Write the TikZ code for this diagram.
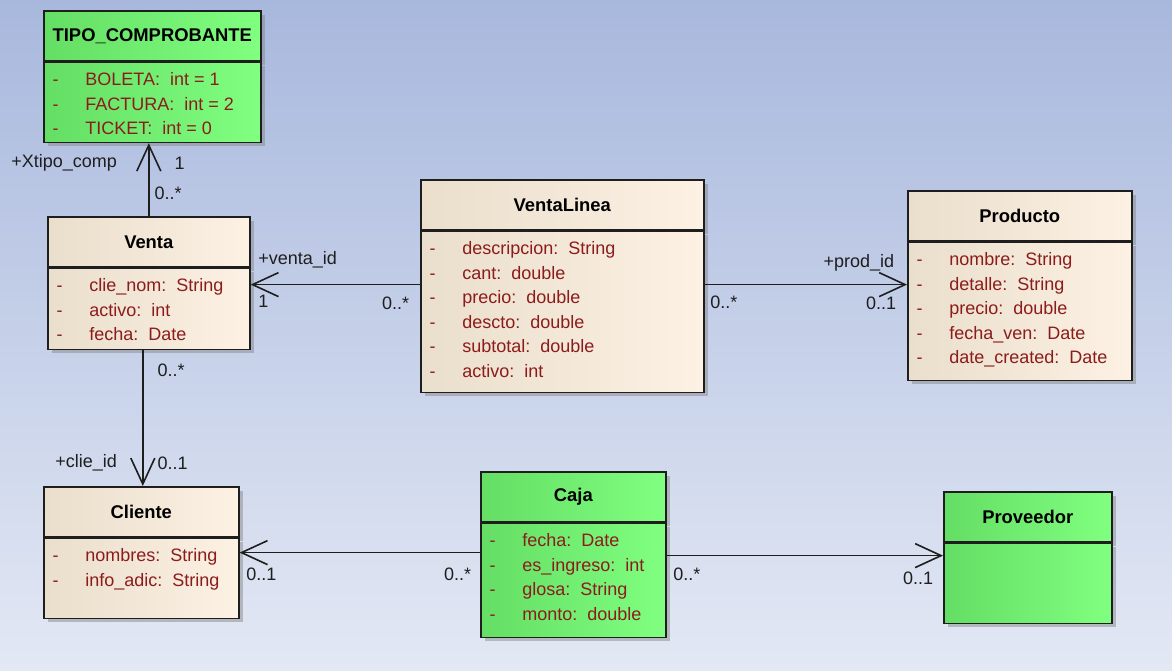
\documentclass[tikz,border=0pt]{standalone}
\usepackage{fontspec}
\setmainfont{Liberation Sans}
\usepackage{tikz}
\usetikzlibrary{arrows.meta,shadows,calc}
\definecolor{bgtop}{RGB}{168,184,221}
\definecolor{bgbot}{RGB}{227,232,244}
\definecolor{beigeD}{RGB}{234,222,204}
\definecolor{beigeL}{RGB}{252,241,227}
\definecolor{greenD}{RGB}{100,222,100}
\definecolor{greenL}{RGB}{128,255,128}
\definecolor{attrred}{RGB}{140,28,28}
\definecolor{edgeblk}{RGB}{30,30,30}
\tikzset{x=0.5pt,y=-0.5pt,
  every node/.style={font=\fontsize{9}{11}\selectfont},
  classbox/.style={draw=edgeblk,line width=0.8pt,inner sep=0pt,
    drop shadow={shadow xshift=2pt,shadow yshift=-2pt,fill=gray,opacity=.45}},
  classhead/.style={classbox,minimum height=25pt,font=\fontsize{9.2}{11}\selectfont\bfseries},
  beige/.style={left color=beigeD,middle color=beigeL,right color=beigeL},
  green/.style={left color=greenD,middle color=greenL,right color=greenL},
  attr/.style={text=attrred,inner sep=0pt},
  lab/.style={text=edgeblk,inner sep=0pt},
  assoc/.style={draw=edgeblk,line width=0.8pt,
    -{Straight Barb[length=13pt,width=12pt,line width=0.8pt]}}}
\newcommand{\umlclass}[7]{%
  \node[classhead,#7,minimum width=#4*0.5pt,anchor=north west] (#1) at (#2,#3) {#6};
  \node[classbox,#7,minimum width=#4*0.5pt,minimum height=#5*0.5pt,anchor=north west] (#1B) at (#1.south west) {};
}
\newcommand{\umlattrs}[2]{%
  \foreach \a [count=\i] in {#2} {
    \node[attr,anchor=base] (#1d\i) at ([shift={(12.5,{24+24.5*(\i-1)})}]#1B.north west) {-};
    \node[attr,anchor=base west] (#1a\i) at ([shift={(42,{24+24.5*(\i-1)})}]#1B.north west) {\a};
  }
}

\begin{document}
\begin{tikzpicture}
    \shade[top color=bgtop,bottom color=bgbot] (0,0) rectangle (1172,670);
    \useasboundingbox (0,0) rectangle (1172,670);
    % classes
    \umlclass{tipo}{43}{10}{217}{80}{TIPO\_COMPROBANTE}{green}
    \umlattrs{tipo}{BOLETA:\ \ int = 1,FACTURA:\ \ int = 2,TICKET:\ \ int = 0}
    \umlclass{venta}{47}{216}{202}{81}{Venta}{beige}
    \umlattrs{venta}{clie\_nom:\ \ String,activo:\ \ int,fecha:\ \ Date}
    \umlclass{linea}{420}{179}{283}{161}{VentaLinea}{beige}
    \umlattrs{linea}{descripcion:\ \ String,cant:\ \ double,precio:\ \ double,descto:\ \ double,subtotal:\ \ double,activo:\ \ int}
    \umlclass{producto}{907}{190}{224}{138}{Producto}{beige}
    \umlattrs{producto}{nombre:\ \ String,detalle:\ \ String,precio:\ \ double,fecha\_ven:\ \ Date,date\_created:\ \ Date}
    \umlclass{cliente}{43}{486}{195}{80}{Cliente}{beige}
    \umlattrs{cliente}{nombres:\ \ String,info\_adic:\ \ String}
    \umlclass{caja}{480}{471}{185}{114}{Caja}{green}
    \umlattrs{caja}{fecha:\ \ Date,es\_ingreso:\ \ int,glosa:\ \ String,monto:\ \ double}
    \umlclass{proveedor}{943}{491}{168}{80}{Proveedor}{green}
    % end points
    \coordinate (lv) at ([shift={(0,54)}]lineaB.north west);
    \coordinate (lp) at ([shift={(0,54)}]lineaB.north east);
    \coordinate (vc) at ([shift={(-6,0)}]ventaB.south);
    \coordinate (cc) at ([shift={(0,30)}]cajaB.north west);
    \coordinate (cp) at ([shift={(0,33)}]cajaB.north east);
    % associations
    \draw[assoc] (venta.north) -- (venta.north |- tipoB.south)
        node[lab,at start,anchor=west,shift={(5,-23)}] (m1) {0..*}
        node[lab,at end,anchor=west,shift={(25,20)}] (m2) {1}
        node[lab,at end,anchor=east,shift={(-31,20)}] (r1) {+Xtipo\_comp};
    \draw[assoc] (lv) -- (lv -| ventaB.east)
        node[lab,at start,anchor=east,shift={(-10,19)}] (m3) {0..*}
        node[lab,at end,anchor=west,shift={(7,17)}] (m4) {1}
        node[lab,at end,anchor=west,shift={(7,-25)}] (r2) {+venta\_id};
    \draw[assoc] (lp) -- (lp -| productoB.west)
        node[lab,at start,anchor=west,shift={(5,18)}] (m5) {0..*}
        node[lab,at end,anchor=east,shift={(-10,19)}] (m6) {0..1}
        node[lab,at end,anchor=east,shift={(-12,-22)}] (r3) {+prod\_id};
    \draw[assoc] (vc) -- (vc |- cliente.north)
        node[lab,at start,anchor=west,shift={(14,20)}] (m7) {0..*}
        node[lab,at end,anchor=west,shift={(14,-23)}] (m8) {0..1}
        node[lab,at end,anchor=east,shift={(-25,-23)}] (r4) {+clie\_id};
    \draw[assoc] (cc) -- (cc -| clienteB.east)
        node[lab,at start,anchor=east,shift={(-8,22)}] (m9) {0..*}
        node[lab,at end,anchor=west,shift={(6,22)}] (m10) {0..1};
    \draw[assoc] (cp) -- (cp -| proveedorB.west)
        node[lab,at start,anchor=west,shift={(6,19)}] (m11) {0..*}
        node[lab,at end,anchor=east,shift={(-9,23)}] (m12) {0..1};
\end{tikzpicture}
\end{document}
